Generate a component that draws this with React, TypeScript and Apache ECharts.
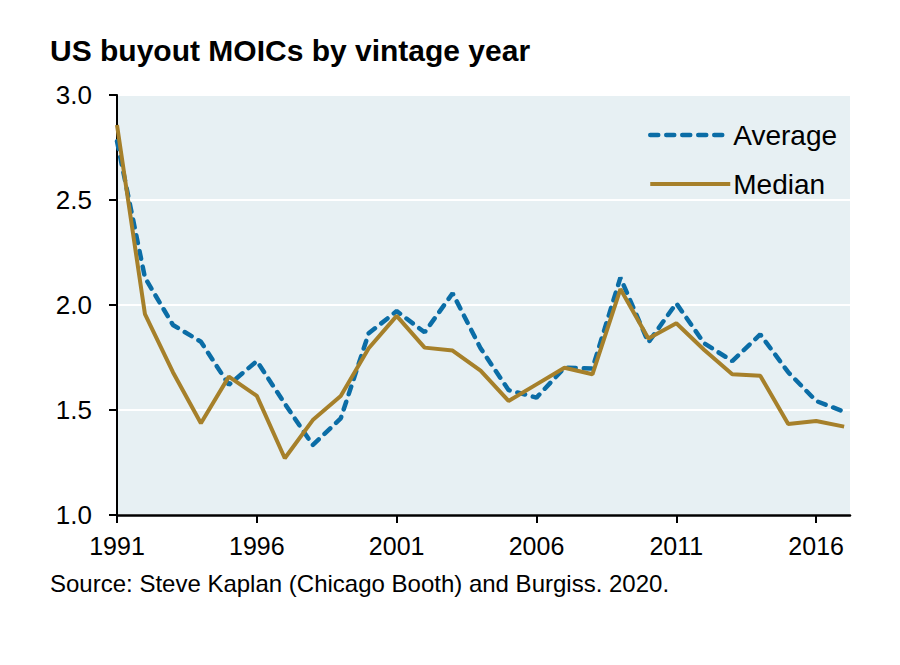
import React, { useEffect, useRef } from "react";
import * as echarts from "echarts";

const years = [1991, 1992, 1993, 1994, 1995, 1996, 1997, 1998, 1999, 2000, 2001, 2002, 2003, 2004, 2005, 2006, 2007, 2008, 2009, 2010, 2011, 2012, 2013, 2014, 2015, 2016, 2017];
const averageValues = [2.78, 2.13, 1.905, 1.825, 1.62, 1.733, 1.53, 1.333, 1.46, 1.865, 1.971, 1.87, 2.056, 1.794, 1.595, 1.559, 1.701, 1.698, 2.13, 1.822, 2.008, 1.817, 1.733, 1.86, 1.68, 1.543, 1.492];
const medianValues = [2.857, 1.956, 1.68, 1.437, 1.659, 1.567, 1.27, 1.452, 1.567, 1.794, 1.948, 1.797, 1.783, 1.687, 1.543, 1.622, 1.701, 1.67, 2.076, 1.841, 1.913, 1.786, 1.67, 1.663, 1.433, 1.448, 1.421];
const xTickYears = [1991, 1996, 2001, 2006, 2011, 2016];
const titleText = "US buyout MOICs by vintage year";
const sourceText = "Source: Steve Kaplan (Chicago Booth) and Burgiss. 2020.";

const FONT = "Liberation Sans, Arial, Helvetica, sans-serif";
const BLUE = "#0b6da6";
const GOLD = "#a6802a";

export default function App() {
  const ref = useRef<HTMLDivElement>(null);
  useEffect(() => {
    if (!ref.current) return;
    const chart = echarts.init(ref.current, undefined, { renderer: "svg" });
    chart.setOption({
      animation: false,
      backgroundColor: "#ffffff",
      textStyle: { fontFamily: FONT },
      title: {
        text: titleText,
        left: 45,
        top: 30,
        textStyle: { fontSize: 30, fontWeight: "bold", color: "#000", fontFamily: FONT },
      },
      legend: {
        orient: "vertical",
        left: 643,
        top: 116,
        itemWidth: 80,
        itemHeight: 14,
        itemGap: 21,
        itemStyle: { opacity: 0 },
        textStyle: { fontSize: 28, color: "#000", fontFamily: FONT, padding: [0, 0, 0, -2] },
        data: [
          { name: "Average", itemStyle: { opacity: 0 }, lineStyle: { width: 4.5, type: [8, 8], cap: "round", color: BLUE } },
          { name: "Median", itemStyle: { opacity: 0 }, lineStyle: { width: 4, color: GOLD } },
        ],
      },
      grid: {
        left: 117,
        top: 95,
        right: 50,
        bottom: 150,
        show: true,
        backgroundColor: "#e7f0f3",
        borderWidth: 0,
        containLabel: false,
      },
      xAxis: {
        type: "value",
        min: 1991,
        max: 2017.21,
        interval: 1,
        axisLine: { show: true, onZero: false, lineStyle: { color: "#000", width: 2.5 } },
        axisTick: { show: true, length: 8, lineStyle: { color: "#000", width: 2 }, customValues: xTickYears },
        axisLabel: {
          customValues: xTickYears,
          fontSize: 25,
          color: "#000",
          margin: 18,
          fontFamily: FONT,
          formatter: (v: number) => String(v),
        },
        splitLine: { show: false },
      },
      yAxis: {
        type: "value",
        min: 1,
        max: 3,
        interval: 0.5,
        axisLine: { show: true, lineStyle: { color: "#000", width: 2 } },
        axisTick: { show: true, length: 8, lineStyle: { color: "#000", width: 2 } },
        axisLabel: {
          fontSize: 26,
          color: "#000",
          margin: 25,
          fontFamily: FONT,
          formatter: (v: number) => v.toFixed(1),
        },
        splitLine: { show: true, lineStyle: { color: "#ffffff", width: 2 } },
      },
      series: [
        {
          name: "Average",
          type: "line",
          symbol: "none",
          data: years.map((y, i) => [y, averageValues[i]]),
          lineStyle: { color: BLUE, width: 4.5, type: [8, 8], cap: "round" },
          itemStyle: { color: BLUE },
          z: 2,
        },
        {
          name: "Median",
          type: "line",
          symbol: "none",
          data: years.map((y, i) => [y, medianValues[i]]),
          lineStyle: { color: GOLD, width: 4 },
          itemStyle: { color: GOLD },
          z: 3,
        },
      ],
      graphic: [
        {
          type: "text",
          left: 50,
          top: 571,
          style: { text: sourceText, fontSize: 24, fill: "#000", fontFamily: FONT },
        },
      ],
    });
    return () => chart.dispose();
  }, []);
  return <div ref={ref} style={{ position: "absolute", left: 0, top: 0, width: 900, height: 665 }} />;
}
